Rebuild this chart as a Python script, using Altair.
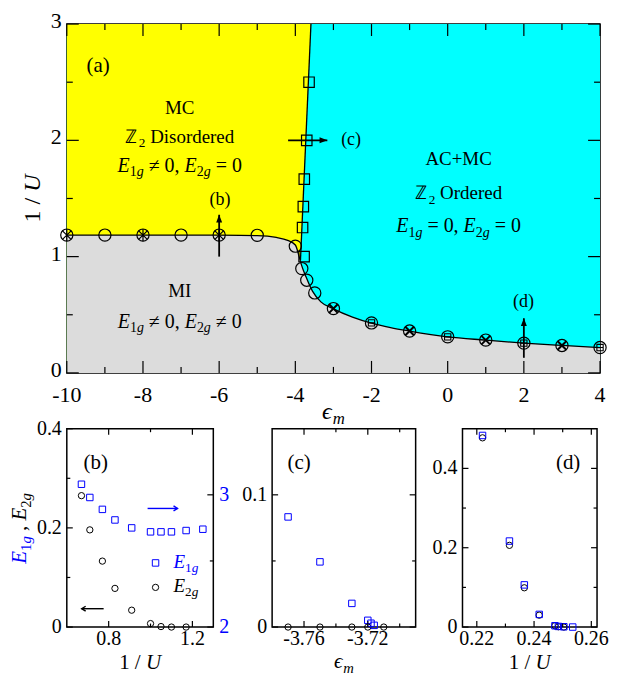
import altair as alt
import pandas as pd

FONT = "Liberation Serif"
BLUE = "#0000ff"
CYAN = "#00ffff"
YELLOW = "#ffff00"
GRAY = "#dcdcdc"

# ---------------- (a) phase diagram ----------------
a_x_domain = [-10, 4]
a_y_domain = [0, 3]
a_x_major = [-10, -8, -6, -4, -2, 0, 2, 4]
a_x_labels = ["-10", "-8", "-6", "-4", "-2", "0", "2", "4"]
a_x_minor = [-9, -7, -5, -3, -1, 1, 3]
a_y_major = [0, 1, 2, 3]
a_y_labels = ["0", "1", "2", "3"]
a_y_minor = [0.5, 1.5, 2.5]

lower_x = [-10, -9, -8, -7, -6, -5, -4.5, -4.2, -4.0, -3.9, -3.85, -3.72, -3.55, -3.33,
           -3.0, -2.5, -2.0, -1.5, -1.0, 0.0, 1.0, 2.0, 3.0, 4.0]
lower_y = [1.185, 1.185, 1.185, 1.185, 1.184, 1.18, 1.165, 1.14, 1.10, 1.0, 0.94, 0.826,
           0.703, 0.611, 0.551, 0.48, 0.428, 0.39, 0.36, 0.31, 0.282, 0.256, 0.236, 0.218]
upper_x = [-3.865, -3.59]
upper_y = [0.97, 3.0]
yellow_x = [-10, -3.866, -3.865, -3.59]
yellow_lo = [0, 0, 0.97, 3.0]
yellow_hi = [3, 3, 3, 3]

circ_x = [-10, -9, -8, -7, -6, -5, -4.0, -3.83, -3.70, -3.49, -3, -2, -1, 0, 1, 2, 3, 4]
circ_y = [1.185, 1.185, 1.185, 1.185, 1.185, 1.183, 1.09, 0.897, 0.797, 0.688,
          0.553, 0.43, 0.36, 0.31, 0.282, 0.256, 0.236, 0.218]
star_x = [-10, -8, -6]
star_y = [1.185, 1.185, 1.185]
cross_x = [-3, -1, 1, 3]
cross_y = [0.553, 0.36, 0.282, 0.236]
box_x = [-2, 0, 2, 4]
box_y = [0.43, 0.31, 0.256, 0.218]
sq_x = [-3.77, -3.81, -3.79, -3.765, -3.70, -3.64]
sq_y = [1.0, 1.25, 1.43, 1.667, 2.0, 2.5]

arrow_b_a = {"x": [-6], "y": [1.0], "y2": [1.36]}
arrow_c_a = {"x": [-4.19], "x2": [-3.16], "y": [2.0]}
arrow_d_a = {"x": [2], "y": [0.13], "y2": [0.47]}

# ---------------- (b) ----------------
b_x_domain = [0.6, 1.3]
b_yl_domain = [0, 0.4]
b_yr_domain = [2, 3.5]
b_x_major = [0.8, 1.2]
b_x_labels = ["0.8", "1.2"]
b_x_minor = [1.0]
b_yl_major = [0, 0.2, 0.4]
b_yl_labels = ["0", "0.2", "0.4"]
b_yl_minor = [0.1, 0.3]
b_yr_major = [2, 3]
b_yr_labels = ["2", "3"]
b_yr_minor = [2.5]
b_x = [0.67, 0.71, 0.77, 0.83, 0.91, 1.0, 1.05, 1.1, 1.17, 1.25]
b_e1g = [3.08, 2.98, 2.89, 2.81, 2.75, 2.72, 2.72, 2.72, 2.73, 2.74]
b_e2g_x = [0.67, 0.71, 0.77, 0.83, 0.91, 1.0, 1.05, 1.1, 1.17]
b_e2g = [0.265, 0.196, 0.133, 0.078, 0.034, 0.007, 0.001, 0.0, 0.0]
b_key_x = [1.024]
b_key_e1g = [2.485]
b_key_e2g = [0.080]
b_arrow_r = {"x": [0.986], "x2": [1.129], "y": [2.897]}
b_arrow_l = {"x": [0.776], "x2": [0.671], "y": [0.037]}

# ---------------- (c) ----------------
c_x_domain = [-3.78, -3.69]
c_y_domain = [0, 0.15]
c_x_major = [-3.76, -3.72]
c_x_labels = ["-3.76", "-3.72"]
c_x_minor = [-3.74, -3.70]
c_y_major = [0, 0.1]
c_y_labels = ["0", "0.1"]
c_y_minor = [0.05]
c_sq_x = [-3.77, -3.75, -3.73, -3.72, -3.718, -3.716]
c_sq_y = [0.0833, 0.0493, 0.0179, 0.0051, 0.0029, 0.0013]
c_ci_x = [-3.77, -3.75, -3.73, -3.72, -3.71]
c_ci_y = [0, 0, 0, 0, 0]

# ---------------- (d) ----------------
d_x_domain = [0.215, 0.262]
d_y_domain = [0, 0.5]
d_x_major = [0.22, 0.24, 0.26]
d_x_labels = ["0.22", "0.24", "0.26"]
d_x_minor = [0.23, 0.25]
d_y_major = [0, 0.2, 0.4]
d_y_labels = ["0", "0.2", "0.4"]
d_y_minor = [0.1, 0.3]
d_sq_x = [0.222, 0.2314, 0.2366, 0.2418, 0.2473, 0.2485, 0.2504, 0.2535]
d_sq_y = [0.483, 0.2168, 0.1063, 0.0319, 0.0033, 0.0016, 0.0008, 0.0]
d_ci_x = [0.222, 0.2314, 0.2366, 0.2418, 0.2473, 0.2485, 0.2504]
d_ci_y = [0.477, 0.206, 0.099, 0.030, 0.0033, 0.0008, 0.0]

# sizes
MAIN_W, MAIN_H = 535, 350
B_W, C_W, D_W, BOT_H = 147, 144, 135, 199
KX = MAIN_W / 543.0
KY = BOT_H / 204.0

# ---------------- helpers ----------------
W_R = {" ": 0.25, ",": 0.25, "(": 0.333, ")": 0.333, "/": 0.278, "+": 0.564, "=": 0.564,
       "\u2260": 0.549, "a": 0.444, "b": 0.5, "c": 0.444, "d": 0.5, "e": 0.444, "i": 0.278,
       "o": 0.5, "r": 0.333, "s": 0.389, "A": 0.722, "C": 0.667, "D": 0.722, "I": 0.333,
       "M": 0.889, "O": 0.722, "\u2124": 0.72}
W_I = {"E": 0.611, "U": 0.722, "g": 0.5, "m": 0.722, "\u03f5": 0.44}


def text_w(s, italic):
    tbl = W_I if italic else W_R
    return sum(tbl.get(ch, 0.5) for ch in s)


def rich(segs, x, y, fs, align="center", angle=0, color="black"):
    items, total = [], 0.0
    for seg in segs:
        t, k = seg[0], seg[1]
        col = seg[2] if len(seg) > 2 else color
        sub = k.startswith("s")
        it = k.endswith("i")
        size = fs * 0.7 if sub else fs
        w = text_w(t, it) * size
        items.append((t, size, it, sub, w, col))
        total += w
    off = -total / 2 if align == "center" else 0.0
    rows = []
    for t, size, it, sub, w, col in items:
        lead = len(t) - len(t.lstrip(" "))
        core = t.strip(" ")
        o = off + lead * 0.25 * size
        shift = 0.22 * fs if sub else 0.0
        if angle == 0:
            px, py = x + o, y + shift
        else:
            px, py = x + shift, y - o
        rows.append(dict(px=px, py=py, text=core, size=size, it=int(it), ang=angle, color=col))
        off += w
    return rows


def text_layers(rows):
    df = pd.DataFrame(rows)
    out = []
    for it in (0, 1):
        for ang in (0, 270):
            sub = df[(df.it == it) & (df.ang == ang)]
            if len(sub) == 0:
                continue
            out.append(
                alt.Chart(sub.reset_index(drop=True)).mark_text(
                    align="left", baseline="alphabetic", font=FONT,
                    fontStyle="italic" if it else "normal", angle=ang
                ).encode(
                    x=alt.X("px:Q", scale=None, axis=None),
                    y=alt.Y("py:Q", scale=None, axis=None),
                    text="text:N",
                    size=alt.Size("size:Q", scale=None),
                    color=alt.Color("color:N", scale=None),
                )
            )
    return out


def E_row(r1, r2):
    return [("E", "i"), ("1", "sr"), ("g", "si"), (f" {r1} 0, ", "r"),
            ("E", "i"), ("2", "sr"), ("g", "si"), (f" {r2} 0", "r")]


def ticks(vals, ch, scale, side, length, W, H, color="black", sw=1.2):
    base = alt.Chart(pd.DataFrame({"v": vals})).mark_rule(color=color, strokeWidth=sw)
    if ch == "y":
        enc = dict(y=alt.Y("v:Q", scale=scale, axis=None))
        if side == "left":
            enc.update(x=alt.value(0), x2=alt.value(length))
        else:
            enc.update(x=alt.value(W - length), x2=alt.value(W))
    else:
        enc = dict(x=alt.X("v:Q", scale=scale, axis=None))
        if side == "bottom":
            enc.update(y=alt.value(H - length), y2=alt.value(H))
        else:
            enc.update(y=alt.value(0), y2=alt.value(length))
    return base.encode(**enc)


def all_ticks(xs, ys, xmaj, xmin, ymaj, ymin, W, H, Lmaj, Lmin, right=True):
    out = []
    for side in ("bottom", "top"):
        out.append(ticks(xmaj, "x", xs, side, Lmaj, W, H))
        out.append(ticks(xmin, "x", xs, side, Lmin, W, H))
    sides = ("left", "right") if right else ("left",)
    for side in sides:
        out.append(ticks(ymaj, "y", ys, side, Lmaj, W, H))
        out.append(ticks(ymin, "y", ys, side, Lmin, W, H))
    return out


def xlabels(vals, labs, scale, H, pad, fs):
    return alt.Chart(pd.DataFrame({"v": vals, "t": labs})).mark_text(
        align="center", baseline="top", font=FONT, fontSize=fs, color="black"
    ).encode(x=alt.X("v:Q", scale=scale, axis=None), y=alt.value(H + pad), text="t:N")


def ylabels(vals, labs, scale, side, W, pad, fs, color="black", dy=0):
    if side == "left":
        mk = alt.Chart(pd.DataFrame({"v": vals, "t": labs})).mark_text(
            align="right", baseline="middle", font=FONT, fontSize=fs, color=color, dy=dy)
        xv = -pad
    else:
        mk = alt.Chart(pd.DataFrame({"v": vals, "t": labs})).mark_text(
            align="left", baseline="middle", font=FONT, fontSize=fs, color=color, dy=dy)
        xv = W + pad
    return mk.encode(y=alt.Y("v:Q", scale=scale, axis=None), x=alt.value(xv), text="t:N")


def spacer(px):
    return alt.Chart(pd.DataFrame({"a": [0]})).mark_rule(strokeOpacity=0).encode(
        x=alt.value(px), x2=alt.value(px + 1), y=alt.value(20))


UP_HEAD = "M 0 0 L 1 2.6 L -1 2.6 Z"
RIGHT_HEAD = "M 0 0 L -2.6 -1 L -2.6 1 Z"
OPEN_R = "M -1.6 -1 L 0 0 L -1.6 1"
OPEN_L = "M 1.6 -1 L 0 0 L 1.6 1"
STAR = "M -0.7 -0.7 L 0.7 0.7 M 0.7 -0.7 L -0.7 0.7 M 0 -1 L 0 1"
XMARK = "M -0.7 -0.7 L 0.7 0.7 M 0.7 -0.7 L -0.7 0.7"
BOXM = "M -1 -1 L 1 -1 L 1 1 L -1 1 Z M -1 0 L 1 0"


def pts(xv, yv, shape, size, sw, X, Y, color="black"):
    return alt.Chart(pd.DataFrame({"x": xv, "y": yv})).mark_point(
        shape=shape, filled=False, color=color, size=size, strokeWidth=sw, opacity=1
    ).encode(x=X("x"), y=Y("y"))


# ---------------- main panel ----------------
xs_a = alt.Scale(domain=a_x_domain, nice=False, zero=False)
ys_a = alt.Scale(domain=a_y_domain, nice=False, zero=False)


def XA(f):
    return alt.X(f, type="quantitative", scale=xs_a, axis=None)


def YA(f):
    return alt.Y(f, type="quantitative", scale=ys_a, axis=None)


bg = alt.Chart(pd.DataFrame({"x": [a_x_domain[0]], "x2": [a_x_domain[1]],
                             "y": [a_y_domain[0]], "y2": [a_y_domain[1]]})).mark_rect(
    color=CYAN).encode(x=XA("x"), x2="x2", y=YA("y"), y2="y2")

yellow = alt.Chart(pd.DataFrame({"x": yellow_x, "lo": yellow_lo, "hi": yellow_hi})).mark_area(
    color=YELLOW, interpolate="linear").encode(x=XA("x"), y=YA("lo"), y2="hi")

lower_df = pd.DataFrame({"x": lower_x, "y": lower_y})
gray = alt.Chart(lower_df).mark_area(color=GRAY, interpolate="monotone").encode(
    x=XA("x"), y=YA("y"), y2=alt.datum(0))
lower_line = alt.Chart(lower_df).mark_line(color="black", strokeWidth=1.3,
                                           interpolate="monotone").encode(x=XA("x"), y=YA("y"))
upper_line = alt.Chart(pd.DataFrame({"x": upper_x, "y": upper_y})).mark_line(
    color="black", strokeWidth=1.3).encode(x=XA("x"), y=YA("y"))

circles = pts(circ_x, circ_y, "circle", 150, 1.2, XA, YA)
stars = pts(star_x, star_y, STAR, 150, 1.2, XA, YA)
crosses = pts(cross_x, cross_y, XMARK, 150, 2, XA, YA)
boxes = pts(box_x, box_y, BOXM, 40, 1.1, XA, YA)
squares = pts(sq_x, sq_y, "square", 110, 1.2, XA, YA)

arr_b = alt.Chart(pd.DataFrame(arrow_b_a)).mark_rule(color="black", strokeWidth=1.8).encode(
    x=XA("x"), y=YA("y"), y2="y2")
arr_b_h = alt.Chart(pd.DataFrame(arrow_b_a)).mark_point(
    shape=UP_HEAD, filled=True, color="black", size=36, opacity=1).encode(x=XA("x"), y=YA("y2"))
arr_c = alt.Chart(pd.DataFrame(arrow_c_a)).mark_rule(color="black", strokeWidth=1.8).encode(
    x=XA("x"), x2="x2", y=YA("y"))
arr_c_h = alt.Chart(pd.DataFrame(arrow_c_a)).mark_point(
    shape=RIGHT_HEAD, filled=True, color="black", size=36, opacity=1).encode(x=XA("x2"), y=YA("y"))
arr_d = alt.Chart(pd.DataFrame(arrow_d_a)).mark_rule(color="black", strokeWidth=1.8).encode(
    x=XA("x"), y=YA("y"), y2="y2")
arr_d_h = alt.Chart(pd.DataFrame(arrow_d_a)).mark_point(
    shape=UP_HEAD, filled=True, color="black", size=36, opacity=1).encode(x=XA("x"), y=YA("y2"))

rows_a = []
rows_a += rich([("(a)", "r")], 20 * KX, 48, 21, align="left")
rows_a += rich([("MC", "r")], 115 * KX, 90, 19)
rows_a += rich([("\u2124", "r"), ("2", "sr"), (" Disordered", "r")], 115 * KX, 119, 19)
rows_a += rich(E_row("\u2260", "="), 115 * KX, 148, 20)
rows_a += rich([("MI", "r")], 115 * KX, 274, 19)
rows_a += rich(E_row("\u2260", "\u2260"), 115 * KX, 305, 20)
rows_a += rich([("AC+MC", "r")], 399 * KX, 141, 19)
rows_a += rich([("\u2124", "r"), ("2", "sr"), (" Ordered", "r")], 399 * KX, 176, 19)
rows_a += rich(E_row("=", "="), 399 * KX, 209, 20)
rows_a += rich([("(b)", "r")], 156 * KX, 182, 18)
rows_a += rich([("(c)", "r")], 289.5 * KX, 121, 18)
rows_a += rich([("(d)", "r")], 465 * KX, 284, 18)
rows_a += rich([("1 / ", "r"), ("U", "i")], -27, 175, 24, angle=270)
rows_a += rich([("\u03f5", "i"), ("m", "si")], MAIN_W / 2, 396, 24)

main_layers = [bg, yellow, gray, lower_line, upper_line, arr_b, arr_c, arr_d,
               circles, stars, crosses, boxes, squares, arr_b_h, arr_c_h, arr_d_h]
main_layers += text_layers(rows_a)
main_layers += all_ticks(xs_a, ys_a, a_x_major, a_x_minor, a_y_major, a_y_minor,
                         MAIN_W, MAIN_H, 12, 6)
main_layers += [xlabels(a_x_major, a_x_labels, xs_a, MAIN_H, 12, 22),
                ylabels(a_y_major, a_y_labels, ys_a, "left", MAIN_W, 5, 22, dy=-3),
                spacer(-58), spacer(MAIN_W + 6)]
main = alt.layer(*main_layers).properties(width=MAIN_W, height=MAIN_H)

# ---------------- panel (b) ----------------
xs_b = alt.Scale(domain=b_x_domain, nice=False, zero=False)
ysl_b = alt.Scale(domain=b_yl_domain, nice=False, zero=False)
ysr_b = alt.Scale(domain=b_yr_domain, nice=False, zero=False)


def XB(f):
    return alt.X(f, type="quantitative", scale=xs_b, axis=None)


def YBL(f):
    return alt.Y(f, type="quantitative", scale=ysl_b, axis=None)


def YBR(f):
    return alt.Y(f, type="quantitative", scale=ysr_b, axis=None)


b_circ = pts(b_e2g_x, b_e2g, "circle", 40, 1, XB, YBL)
b_kc = pts(b_key_x, b_key_e2g, "circle", 40, 1, XB, YBL)
b_al = alt.Chart(pd.DataFrame(b_arrow_l)).mark_rule(color="black", strokeWidth=1.4).encode(
    x=XB("x"), x2="x2", y=YBL("y"))
b_alh = alt.Chart(pd.DataFrame(b_arrow_l)).mark_point(
    shape=OPEN_L, filled=False, color="black", size=25, strokeWidth=1.4, opacity=1
).encode(x=XB("x2"), y=YBL("y"))

rows_b = []
rows_b += rich([("(b)", "r")], 29, 40, 21)
rows_b += rich([("E", "i", BLUE), ("1", "sr", BLUE), ("g", "si", BLUE), (" , ", "r", "black"),
                ("E", "i"), ("2", "sr"), ("g", "si")], -41, 100, 21, angle=270)
rows_b += rich([("1 / ", "r"), ("U", "i")], B_W / 2, 241, 21)
rows_b += rich([("E", "i", BLUE), ("1", "sr", BLUE), ("g", "si", BLUE)], 107, 143 * KY, 19,
               align="left")
rows_b += rich([("E", "i"), ("2", "sr"), ("g", "si")], 107, 168 * KY, 19, align="left")

left_b = [b_circ, b_kc, b_al, b_alh] + text_layers(rows_b)
left_b += [ticks(b_x_major, "x", xs_b, s, 6, B_W, BOT_H) for s in ("bottom", "top")]
left_b += [ticks(b_x_minor, "x", xs_b, s, 3.5, B_W, BOT_H) for s in ("bottom", "top")]
left_b += [ticks(b_yl_major, "y", ysl_b, "left", 6, B_W, BOT_H),
           ticks(b_yl_minor, "y", ysl_b, "left", 3.5, B_W, BOT_H),
           xlabels(b_x_major, b_x_labels, xs_b, BOT_H, 2, 20),
           ylabels(b_yl_major, b_yl_labels, ysl_b, "left", B_W, 5, 20),
           spacer(-58), spacer(B_W + 17)]

b_sq = pts(b_x, b_e1g, "square", 42, 1, XB, YBR, color=BLUE)
b_ks = pts(b_key_x, b_key_e1g, "square", 42, 1, XB, YBR, color=BLUE)
b_ar = alt.Chart(pd.DataFrame(b_arrow_r)).mark_rule(color=BLUE, strokeWidth=1.4).encode(
    x=XB("x"), x2="x2", y=YBR("y"))
b_arh = alt.Chart(pd.DataFrame(b_arrow_r)).mark_point(
    shape=OPEN_R, filled=False, color=BLUE, size=25, strokeWidth=1.4, opacity=1
).encode(x=XB("x2"), y=YBR("y"))
right_b = [b_sq, b_ks, b_ar, b_arh,
           ticks(b_yr_major, "y", ysr_b, "right", 6, B_W, BOT_H),
           ticks(b_yr_minor, "y", ysr_b, "right", 3.5, B_W, BOT_H),
           ylabels(b_yr_major, b_yr_labels, ysr_b, "right", B_W, 6, 20, color=BLUE)]

panel_b = alt.layer(alt.layer(*left_b), alt.layer(*right_b)).resolve_scale(
    y="independent").properties(width=B_W, height=BOT_H)

# ---------------- panel (c) ----------------
xs_c = alt.Scale(domain=c_x_domain, nice=False, zero=False)
ys_c = alt.Scale(domain=c_y_domain, nice=False, zero=False)


def XC(f):
    return alt.X(f, type="quantitative", scale=xs_c, axis=None)


def YC(f):
    return alt.Y(f, type="quantitative", scale=ys_c, axis=None)


c_circ = pts(c_ci_x, c_ci_y, "circle", 40, 1, XC, YC)
c_sq = pts(c_sq_x, c_sq_y, "square", 42, 1, XC, YC, color=BLUE)
rows_c = rich([("(c)", "r")], 27, 40, 21)
rows_c += rich([("\u03f5", "i"), ("m", "si")], C_W / 2, 240, 21)
panel_c = alt.layer(
    c_circ, c_sq, *text_layers(rows_c),
    *all_ticks(xs_c, ys_c, c_x_major, c_x_minor, c_y_major, c_y_minor, C_W, BOT_H, 6, 3.5),
    xlabels(c_x_major, c_x_labels, xs_c, BOT_H, 2, 20),
    ylabels(c_y_major, c_y_labels, ys_c, "left", C_W, 5, 20),
    spacer(-35), spacer(C_W + 5)).properties(width=C_W, height=BOT_H)

# ---------------- panel (d) ----------------
xs_d = alt.Scale(domain=d_x_domain, nice=False, zero=False)
ys_d = alt.Scale(domain=d_y_domain, nice=False, zero=False)


def XD(f):
    return alt.X(f, type="quantitative", scale=xs_d, axis=None)


def YD(f):
    return alt.Y(f, type="quantitative", scale=ys_d, axis=None)


d_circ = pts(d_ci_x, d_ci_y, "circle", 40, 1, XD, YD)
d_sq = pts(d_sq_x, d_sq_y, "square", 42, 1, XD, YD, color=BLUE)
rows_d = rich([("(d)", "r")], 106, 40, 21)
rows_d += rich([("1 / ", "r"), ("U", "i")], D_W / 2, 241, 21)
panel_d = alt.layer(
    d_circ, d_sq, *text_layers(rows_d),
    *all_ticks(xs_d, ys_d, d_x_major, d_x_minor, d_y_major, d_y_minor, D_W, BOT_H, 6, 3.5),
    xlabels(d_x_major, d_x_labels, xs_d, BOT_H, 2, 20),
    ylabels(d_y_major, d_y_labels, ys_d, "left", D_W, 5, 20),
    spacer(-35)).properties(width=D_W, height=BOT_H)

# ---------------- assemble ----------------
top_row = alt.hconcat(main, spacing=0)
bottom_row = alt.hconcat(panel_b, panel_c, panel_d, spacing=4)
chart = alt.vconcat(top_row, bottom_row, spacing=-19).properties(
    padding={"left": 0, "top": 0, "right": 0, "bottom": 0}
).configure(font=FONT).configure_view(stroke="black", strokeWidth=1.5)

chart.save("out.html", embed_options={"renderer": "svg", "actions": False})
